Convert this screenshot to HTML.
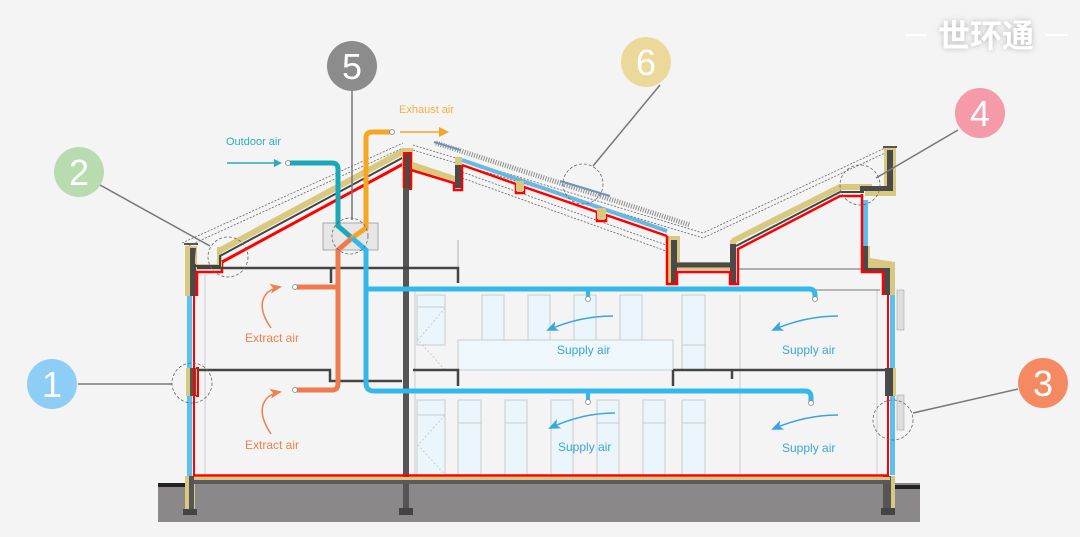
<!DOCTYPE html>
<html><head><meta charset="utf-8"><style>
html,body{margin:0;padding:0;background:#f4f4f4;}
svg{display:block;font-family:"Liberation Sans","Noto Sans CJK SC",sans-serif;}
</style></head><body>
<svg width="1080" height="537" viewBox="0 0 1080 537" xmlns="http://www.w3.org/2000/svg">
<defs>
<marker id="at" markerWidth="8" markerHeight="8" refX="6" refY="4" orient="auto" markerUnits="userSpaceOnUse"><path d="M0,0 L8,4 L0,8 z" fill="#2aacbf"/></marker>
<marker id="ao" markerWidth="10" markerHeight="10" refX="8" refY="5" orient="auto" markerUnits="userSpaceOnUse"><path d="M0,0 L10,5 L0,10 z" fill="#f5a623"/></marker>
<marker id="ar" markerWidth="12" markerHeight="10" refX="10" refY="5" orient="auto" markerUnits="userSpaceOnUse"><path d="M0,0 L12,5 L0,10 L3,5 z" fill="#f08050"/></marker>
<marker id="ab" markerWidth="12" markerHeight="10" refX="10" refY="5" orient="auto" markerUnits="userSpaceOnUse"><path d="M0,0 L12,5 L0,10 L3,5 z" fill="#3aa5dd"/></marker>
</defs>
<rect width="1080" height="537" fill="#f4f4f4"/>

<!-- logo -->
<g>
<line x1="905" y1="35" x2="927" y2="35" stroke="#fff" stroke-width="2"/>
<line x1="1046" y1="35" x2="1068" y2="35" stroke="#fff" stroke-width="2"/>
<text x="986" y="47" font-size="32" font-weight="bold" fill="#fff" text-anchor="middle" style="filter:drop-shadow(0 0 3px rgba(0,0,0,0.25))">世环通</text>
</g>

<!-- ground -->
<rect x="158" y="483" width="762" height="39" fill="#8a8888"/>
<rect x="158" y="483" width="28" height="4" fill="#222"/>
<rect x="895" y="485" width="25" height="4" fill="#222"/>

<!-- interior windows -->
<g fill="#eaf6fc" stroke="#c8ccce" stroke-width="1">
<rect x="417" y="295" width="28" height="50"/>
<rect x="482" y="295" width="22" height="45"/>
<rect x="528" y="295" width="22" height="45"/>
<rect x="574" y="295" width="22" height="45"/>
<rect x="620" y="295" width="22" height="45"/>
<rect x="682" y="295" width="23" height="75"/>
<rect x="417" y="400" width="28" height="75"/>
<rect x="458" y="400" width="23" height="75"/>
<rect x="505" y="400" width="22" height="75"/>
<rect x="551" y="400" width="22" height="75"/>
<rect x="597" y="400" width="22" height="75"/>
<rect x="643" y="400" width="22" height="75"/>
<rect x="682" y="400" width="23" height="75"/>
</g>
<g stroke="#c8ccce" stroke-width="1" fill="none">
<line x1="417" y1="307" x2="445" y2="307"/><line x1="417" y1="415" x2="445" y2="415"/>
<line x1="458" y1="423" x2="481" y2="423"/><line x1="505" y1="423" x2="527" y2="423"/>
<line x1="597" y1="423" x2="619" y2="423"/><line x1="643" y1="423" x2="665" y2="423"/><line x1="682" y1="423" x2="705" y2="423"/><line x1="682" y1="345" x2="705" y2="345"/>
<path d="M445,308 L418,340 L445,370" stroke-dasharray="2,2"/>
<path d="M445,415 L418,445 L445,475" stroke-dasharray="2,2"/>
<line x1="740" y1="295" x2="740" y2="475"/>
<line x1="415" y1="290" x2="415" y2="475"/>
<line x1="877" y1="290" x2="877" y2="475"/>
<line x1="205" y1="275" x2="205" y2="475"/>
<line x1="737" y1="269" x2="862" y2="269" stroke="#999" stroke-width="1.5"/>
<line x1="812" y1="290" x2="880" y2="290" stroke="#777"/>
<line x1="458" y1="240" x2="458" y2="268" stroke="#d0d4d6" stroke-width="2"/>
</g>
<rect x="458" y="340" width="215" height="30" fill="#eef7fb" stroke="#c8ccce"/>
<line x1="406" y1="190" x2="406" y2="480" stroke="#d8e8ee" stroke-width="5"/>

<!-- dashed roof outline -->
<g fill="none" stroke="#666" stroke-width="0.8" stroke-dasharray="2,1.5">
<path d="M182,243 L403,143"/><path d="M186,247 L403,148"/>
<path d="M413,145 L703,233 L885,148"/><path d="M413,150 L703,238 L885,153"/>
<path d="M462,172 L666,245"/><path d="M462,178 L666,251"/>
</g>
<!-- solar panels -->
<line x1="436" y1="143" x2="690" y2="225" stroke="#8a8a8a" stroke-width="5" stroke-dasharray="1,1.5"/>
<line x1="434" y1="142" x2="460" y2="150" stroke="#6c95b8" stroke-width="2"/>
<line x1="560" y1="181" x2="610" y2="196" stroke="#6c95b8" stroke-width="2"/>

<!-- left wall -->
<rect x="185" y="246" width="12" height="50" fill="#d9c980"/>
<rect x="190" y="248" width="6" height="48" fill="#4a4a4a"/>
<rect x="184" y="243" width="14" height="2" fill="#555"/>
<rect x="187" y="296" width="5" height="180" fill="#5bc0ef"/>
<rect x="186" y="368" width="12" height="28" fill="#d9c980"/>
<rect x="190" y="368" width="6" height="28" fill="#555"/>
<rect x="185" y="476" width="10" height="38" fill="#d9c980"/>
<rect x="189" y="476" width="5" height="36" fill="#555"/>
<rect x="183" y="509" width="14" height="6" fill="#444"/>
<path d="M197,296 V272 H222 V262" fill="none" stroke="#f00" stroke-width="2.5"/>
<line x1="194" y1="296" x2="194" y2="476" stroke="#f00" stroke-width="2"/>
<path d="M196,368 H198 V396 H196" fill="none" stroke="#f00" stroke-width="2"/>

<!-- left roof (thin layers) -->
<path d="M195,248 V264 H217 V247 H222 V268 H197 Z" fill="#d9c980"/>
<path d="M219,251 L404,151" stroke="#d9c980" stroke-width="6" fill="none"/>
<path d="M193,266 H220 V256 L404,157" fill="none" stroke="#444" stroke-width="2"/>
<path d="M222,262 L405,163" fill="none" stroke="#f00" stroke-width="3"/>
<!-- ridge -->
<rect x="402" y="148" width="11" height="40" fill="#d9c980"/>
<rect x="404" y="153" width="7" height="36" fill="#4a4a4a" stroke="#f00" stroke-width="2"/>
<rect x="403" y="188" width="6" height="327" fill="#555"/>
<rect x="399" y="508" width="14" height="7" fill="#444"/>
<!-- ridge right -->
<path d="M413,162 L455,176 V157 H462 V186 H455 V182 L413,170 Z" fill="#d9c980"/>
<path d="M411,170 L454,183 V190 H462 V165" fill="none" stroke="#f00" stroke-width="2.5"/>
<rect x="455" y="165" width="6" height="23" fill="#4a4a4a"/>
<!-- solar roof slope -->
<path d="M462,160 L667,231" stroke="#6ab8e0" stroke-width="4"/>
<path d="M462,165 L516,184 V193 H524 V187 L597,212 V221 H606 V215 L667,236" fill="none" stroke="#f00" stroke-width="2.5"/>
<rect x="516" y="181" width="8" height="10" fill="#d9c980"/>
<rect x="597" y="208" width="9" height="11" fill="#d9c980"/>

<!-- valley -->
<path d="M667,236 H680 V262 H730 V270 H677 V284 H667 Z" fill="#d9c980"/>
<path d="M730,240 L736,238 V284 H730 Z" fill="#d9c980"/>
<rect x="671" y="240" width="6" height="44" fill="#4a4a4a"/>
<rect x="730" y="244" width="6" height="40" fill="#4a4a4a"/>
<path d="M671,265 H733" stroke="#4a4a4a" stroke-width="5"/>
<path d="M733,241 L840,187 H872" stroke="#d9c980" stroke-width="6" fill="none"/>
<path d="M736,246 L840,192 H864" stroke="#444" stroke-width="2" fill="none"/>
<path d="M667,236 V284 H677 V272 H730 V284 H738 V249 L840,196 H862" fill="none" stroke="#f00" stroke-width="2.5"/>
<!-- right parapet -->
<rect x="884" y="148" width="12" height="48" fill="#d9c980"/>
<rect x="887" y="150" width="6" height="42" fill="#4a4a4a"/>
<rect x="883" y="146" width="14" height="2" fill="#555"/>
<rect x="865" y="186" width="31" height="10" fill="#d9c980"/>
<rect x="860" y="186" width="33" height="5" fill="#4a4a4a"/>
<rect x="863" y="200" width="5" height="46" fill="#5bc0ef"/>
<path d="M862,246 H870 V258 L895,262 V295 H885 V272 H862 Z" fill="#d9c980"/>
<path d="M862,246 H868 V268 H890 V295 H884 V272 H862 Z" fill="#4a4a4a"/>
<path d="M862,194 V272 H883 V295" fill="none" stroke="#f00" stroke-width="2.5"/>
<rect x="890" y="295" width="5" height="180" fill="#5bc0ef"/>
<line x1="888" y1="295" x2="888" y2="476" stroke="#f00" stroke-width="2"/>
<rect x="885" y="368" width="10" height="28" fill="#4a4a4a"/>
<rect x="893" y="368" width="3" height="28" fill="#d9c980"/>
<rect x="883" y="476" width="10" height="36" fill="#555"/>
<rect x="891" y="476" width="4" height="34" fill="#d9c980"/>
<rect x="881" y="508" width="14" height="7" fill="#444"/>
<rect x="897" y="290" width="7" height="40" fill="#ddd" stroke="#999" stroke-width="0.5"/>
<rect x="897" y="395" width="7" height="35" fill="#ddd" stroke="#999" stroke-width="0.5"/>

<!-- floor -->
<rect x="194" y="477" width="696" height="3" fill="#d9c980"/>
<rect x="194" y="480" width="696" height="4" fill="#5a5a5a"/>
<line x1="193" y1="475.5" x2="889" y2="475.5" stroke="#f00" stroke-width="2.5"/>

<!-- slabs -->
<g stroke="#444" stroke-width="2.5" fill="none">
<path d="M197,268 H458 V283"/>
<path d="M331,268 V283"/>
<path d="M197,370 H330 V381 H402"/>
<path d="M413,370 H458 V386"/>
<path d="M673,370 H885"/>
<path d="M673,370 V386"/>
<path d="M732,370 V379"/>
</g>
<rect x="403" y="320" width="6" height="17" fill="#555"/>
<rect x="403" y="395" width="6" height="20" fill="#555"/>

<!-- HRV -->
<rect x="323" y="223" width="55" height="27" fill="#e6e6e6" stroke="#aaa"/>
<line x1="352" y1="91" x2="352" y2="220" stroke="#777" stroke-width="1.5"/>
<!-- ducts -->
<path d="M288,163 H332 Q338,163 338,169 V226 L352,238" fill="none" stroke="#1aa7b8" stroke-width="5"/>
<path d="M352,238 L366,228 V138 Q366,132 372,132 H392" fill="none" stroke="#f5a623" stroke-width="5"/>
<path d="M352,238 L338,250 V384 Q338,390 332,390 H295" fill="none" stroke="#f07a50" stroke-width="5"/>
<path d="M338,287 H295" fill="none" stroke="#f07a50" stroke-width="5"/>
<path d="M352,238 L366,250 V383 Q366,391 374,391 H805 Q811,391 811,397 V402" fill="none" stroke="#34b8ec" stroke-width="5"/>
<path d="M366,289 H809 Q815,289 815,295 V298" fill="none" stroke="#34b8ec" stroke-width="5"/>
<path d="M588,289 V298 M588,391 V400" stroke="#34b8ec" stroke-width="4"/>
<g fill="#fff" stroke="#888" stroke-width="0.8">
<circle cx="288" cy="163" r="2.5"/><circle cx="392" cy="132" r="2.5"/>
<circle cx="295" cy="287" r="2.5"/><circle cx="295" cy="390" r="2.5"/>
<circle cx="588" cy="299" r="2.5"/><circle cx="815" cy="299" r="2.5"/>
<circle cx="588" cy="402" r="2.5"/><circle cx="811" cy="403" r="2.5"/>
</g>

<!-- labels and arrows -->
<text x="226" y="145" font-size="11" fill="#2aacbf">Outdoor air</text>
<line x1="227" y1="163" x2="280" y2="163" stroke="#2aacbf" stroke-width="1.5" marker-end="url(#at)"/>
<text x="399" y="113" font-size="11" fill="#f5b041">Exhaust air</text>
<line x1="400" y1="132" x2="447" y2="132" stroke="#f5a623" stroke-width="1.5" marker-end="url(#ao)"/>
<path d="M271,328 Q255,305 268,292 Q274,288 280,287" fill="none" stroke="#f08050" stroke-width="1.5" marker-end="url(#ar)"/>
<path d="M271,434 Q255,410 268,397 Q274,393 280,392" fill="none" stroke="#f08050" stroke-width="1.5" marker-end="url(#ar)"/>
<text x="245" y="342" font-size="12" fill="#f08050">Extract air</text>
<text x="245" y="449" font-size="12" fill="#f08050">Extract air</text>
<path d="M613,316 Q580,316 548,330" fill="none" stroke="#3aa5dd" stroke-width="1.5" marker-end="url(#ab)"/>
<path d="M838,316 Q805,316 773,330" fill="none" stroke="#3aa5dd" stroke-width="1.5" marker-end="url(#ab)"/>
<path d="M615,413 Q582,413 550,428" fill="none" stroke="#3aa5dd" stroke-width="1.5" marker-end="url(#ab)"/>
<path d="M838,415 Q805,415 773,429" fill="none" stroke="#3aa5dd" stroke-width="1.5" marker-end="url(#ab)"/>
<g font-size="12" fill="#3aa5dd">
<text x="557" y="354">Supply air</text>
<text x="782" y="354">Supply air</text>
<text x="558" y="451">Supply air</text>
<text x="782" y="452">Supply air</text>
</g>

<!-- callouts -->
<g stroke="#777" stroke-width="1.5">
<line x1="100" y1="185" x2="210" y2="246"/>
<line x1="660" y1="85" x2="593" y2="166"/>
<line x1="958" y1="130" x2="876" y2="178"/>
<line x1="78" y1="384" x2="172" y2="384"/>
<line x1="1018" y1="389" x2="913" y2="413"/>
</g>
<g fill="none" stroke="#666" stroke-width="0.8" stroke-dasharray="3,2">
<circle cx="228" cy="257" r="20"/>
<circle cx="350" cy="236" r="18"/>
<circle cx="583" cy="184" r="20"/>
<circle cx="860" cy="185" r="20"/>
<circle cx="192" cy="383" r="20"/>
<circle cx="893" cy="420" r="20"/>
</g>
<g font-size="36" fill="#fff" text-anchor="middle">
<circle cx="79" cy="172" r="25" fill="#b8dbb0"/><text x="79" y="185">2</text>
<circle cx="352" cy="66" r="25" fill="#8c8c8c"/><text x="352" y="79">5</text>
<circle cx="646" cy="62" r="25" fill="#ecd99a"/><text x="646" y="75">6</text>
<circle cx="980" cy="113" r="25" fill="#f49aa8"/><text x="980" y="126">4</text>
<circle cx="52" cy="384" r="25" fill="#8ecdf6"/><text x="52" y="397">1</text>
<circle cx="1043" cy="383" r="25" fill="#f58a62"/><text x="1043" y="396">3</text>
</g>
</svg>
</body></html>
